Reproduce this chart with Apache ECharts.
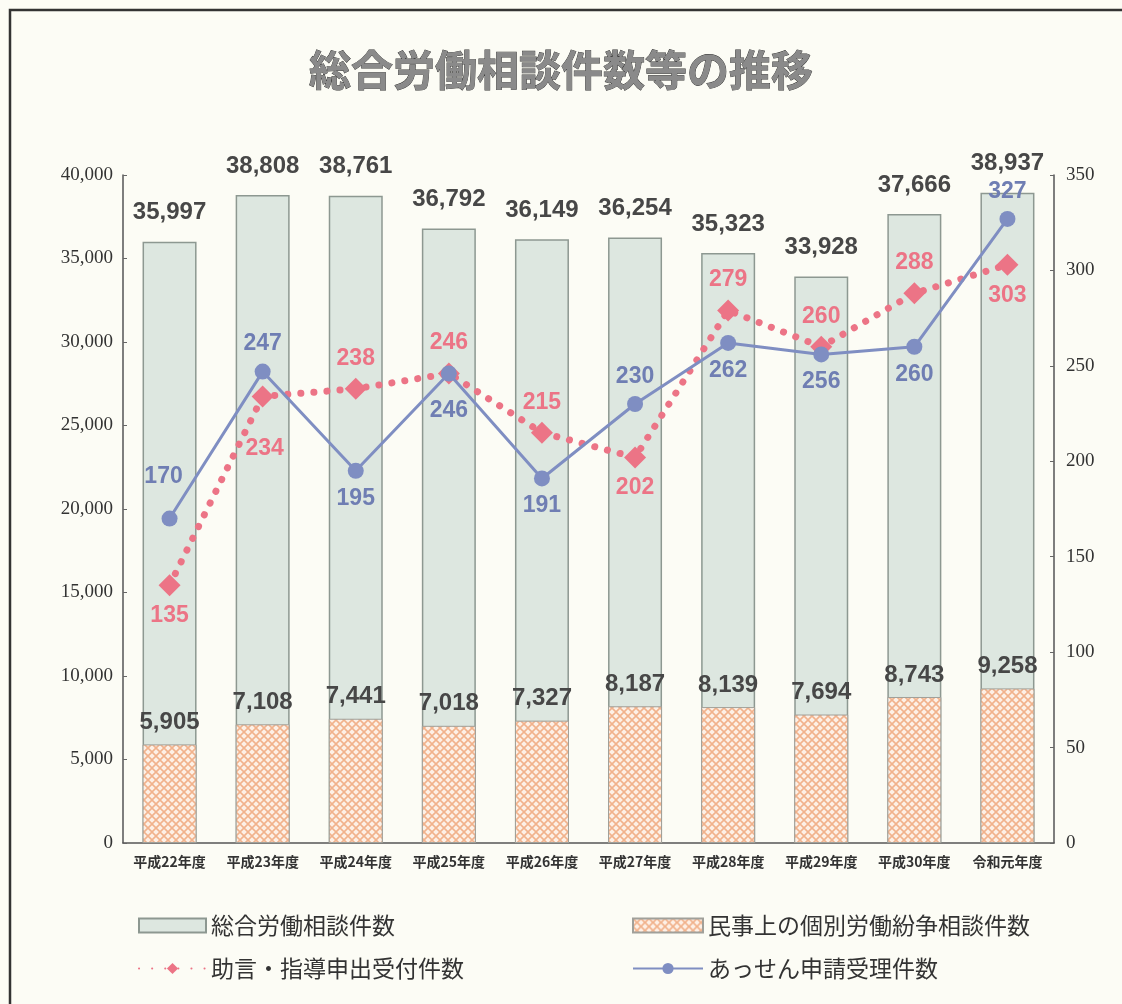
<!DOCTYPE html>
<html>
<head>
<meta charset="utf-8">
<script src="https://cdn.jsdelivr.net/npm/echarts@6/dist/echarts.min.js"></script>
<style>
  html, body { margin: 0; padding: 0; background: #fcfcf5; }
  #chart { width: 1122px; height: 1004px; }
</style>
</head>
<body>
<div id="chart"></div>
<script>
  // データ
  const categories = ['平成22年度', '平成23年度', '平成24年度', '平成25年度', '平成26年度',
    '平成27年度', '平成28年度', '平成29年度', '平成30年度', '令和元年度'];
  const totalCounts = [35997, 38808, 38761, 36792, 36149, 36254, 35323, 33928, 37666, 38937];
  const civilCounts = [5905, 7108, 7441, 7018, 7327, 8187, 8139, 7694, 8743, 9258];
  const adviceCounts = [135, 234, 238, 246, 215, 202, 279, 260, 288, 303];
  const mediationCounts = [170, 247, 195, 246, 191, 230, 262, 256, 260, 327];

  // ラベル位置（見た目用）
  const adviceLabelPos = ['bottom', 'bottom', 'top', 'top', 'top', 'bottom', 'top', 'top', 'top', 'bottom'];
  const adviceLabelOffset = [[0, 0], [2, 22], [0, 0], [0, 0], [0, 0], [0, 0], [0, 0], [0, 0], [0, 0], [0, 0]];
  const mediationLabelPos = ['top', 'top', 'bottom', 'bottom', 'bottom', 'top', 'bottom', 'bottom', 'bottom', 'top'];
  const mediationLabelOffset = [[-6, -14], [0, 0], [0, 0], [0, 10], [0, 0], [0, 0], [0, 0], [0, 0], [0, 0], [0, 0]];

  const NAME_TOTAL = '総合労働相談件数';
  const NAME_CIVIL = '民事上の個別労働紛争相談件数';
  const NAME_ADVICE = '助言・指導申出受付件数';
  const NAME_MEDIATION = 'あっせん申請受理件数';

  function makePattern() {
    const c = document.createElement('canvas');
    c.width = 8; c.height = 8;
    const ctx = c.getContext('2d');
    ctx.fillStyle = '#fdf0e6';
    ctx.fillRect(0, 0, 8, 8);
    ctx.strokeStyle = '#f1b28c';
    ctx.lineWidth = 1.6;
    ctx.beginPath();
    ctx.moveTo(0, 0); ctx.lineTo(8, 8);
    ctx.moveTo(8, 0); ctx.lineTo(0, 8);
    ctx.stroke();
    return c;
  }

  const chart = echarts.init(document.getElementById('chart'));
  const valueFont = { fontFamily: 'Liberation Sans', fontWeight: 'bold', fontSize: 24 };
  const serifLabel = { fontFamily: 'Liberation Serif', fontSize: 19, color: '#333' };
  const legendText = { fontFamily: 'Noto Sans CJK JP', fontSize: 23, color: '#333' };
  const pattern = makePattern();

  chart.setOption({
    backgroundColor: '#fcfcf5',
    animation: false,
    title: {
      text: '総合労働相談件数等の推移',
      left: 'center',
      top: 44,
      textStyle: {
        fontFamily: 'Noto Sans CJK JP',
        fontWeight: 'bold',
        fontSize: 42,
        color: '#8a8a8a',
        textBorderColor: '#333',
        textBorderWidth: 0.8
      }
    },
    graphic: [{
      type: 'rect',
      shape: { x: 10, y: 10, width: 1140, height: 1020 },
      style: { fill: 'none', stroke: '#333', lineWidth: 2.5 },
      silent: true
    }],
    legend: [{
      orient: 'vertical',
      left: 133,
      top: 909,
      itemWidth: 67,
      itemHeight: 14,
      itemGap: 20,
      textStyle: legendText,
      data: [{ name: NAME_TOTAL, icon: 'rect' }, NAME_ADVICE]
    }, {
      orient: 'vertical',
      left: 627,
      top: 909,
      itemWidth: 70,
      itemHeight: 14,
      itemGap: 20,
      textStyle: legendText,
      data: [{ name: NAME_CIVIL, icon: 'rect' }, NAME_MEDIATION]
    }],
    grid: { left: 123, right: 68, top: 175, bottom: 161 },
    xAxis: [{
      type: 'category',
      data: categories,
      axisLine: { lineStyle: { color: '#555', width: 1.5 } },
      axisTick: { show: false },
      axisLabel: {
        interval: 0,
        fontFamily: 'Noto Sans CJK JP',
        fontWeight: 'bold',
        fontSize: 14,
        color: '#333',
        margin: 12
      }
    }],
    yAxis: [{
      type: 'value',
      min: 0,
      max: 40000,
      interval: 5000,
      axisLine: { show: true, lineStyle: { color: '#555', width: 1.5 } },
      axisTick: { show: true, inside: true, length: 4, lineStyle: { color: '#666' } },
      splitLine: { show: false },
      axisLabel: {
        ...serifLabel,
        margin: 10,
        formatter: v => v.toLocaleString('en-US')
      }
    }, {
      type: 'value',
      min: 0,
      max: 350,
      interval: 50,
      position: 'right',
      axisLine: { show: true, lineStyle: { color: '#555', width: 1.5 } },
      axisTick: { show: true, inside: true, length: 4, lineStyle: { color: '#666' } },
      splitLine: { show: false },
      axisLabel: { ...serifLabel, margin: 12 }
    }],
    series: [{
      name: NAME_TOTAL,
      type: 'bar',
      barWidth: 54,
      barGap: '-100%',
      data: totalCounts,
      itemStyle: { color: '#dde7e0', borderColor: '#8d9891', borderWidth: 1.5 },
      label: {
        show: true,
        position: 'top',
        distance: 17,
        ...valueFont,
        color: '#474747',
        formatter: p => p.value.toLocaleString('en-US')
      },
      z: 1
    }, {
      name: NAME_CIVIL,
      type: 'bar',
      barWidth: 54,
      barGap: '-100%',
      data: civilCounts,
      itemStyle: { color: { image: pattern, repeat: 'repeat' }, borderColor: '#a0a09a', borderWidth: 1 },
      label: {
        show: true,
        position: 'top',
        distance: 10,
        ...valueFont,
        color: '#474747',
        formatter: p => p.value.toLocaleString('en-US')
      },
      z: 2
    }, {
      name: NAME_ADVICE,
      type: 'line',
      yAxisIndex: 1,
      data: adviceCounts.map((v, i) => ({
        value: v,
        label: { position: adviceLabelPos[i], offset: adviceLabelOffset[i] }
      })),
      symbol: 'diamond',
      symbolSize: 22,
      itemStyle: { color: '#ec7486' },
      lineStyle: { color: '#ec7486', width: 7, type: [0.1, 13], cap: 'round' },
      label: {
        show: true,
        distance: 8,
        ...valueFont,
        fontSize: 23,
        color: '#ec7486'
      },
      z: 4
    }, {
      name: NAME_MEDIATION,
      type: 'line',
      yAxisIndex: 1,
      data: mediationCounts.map((v, i) => ({
        value: v,
        label: { position: mediationLabelPos[i], offset: mediationLabelOffset[i] }
      })),
      symbol: 'circle',
      symbolSize: 16,
      itemStyle: { color: '#7f8ec2' },
      lineStyle: { color: '#7f8ec2', width: 3 },
      label: {
        show: true,
        distance: 8,
        ...valueFont,
        fontSize: 23,
        color: '#6f7eb3'
      },
      z: 5
    }]
  });
</script>
</body>
</html>
